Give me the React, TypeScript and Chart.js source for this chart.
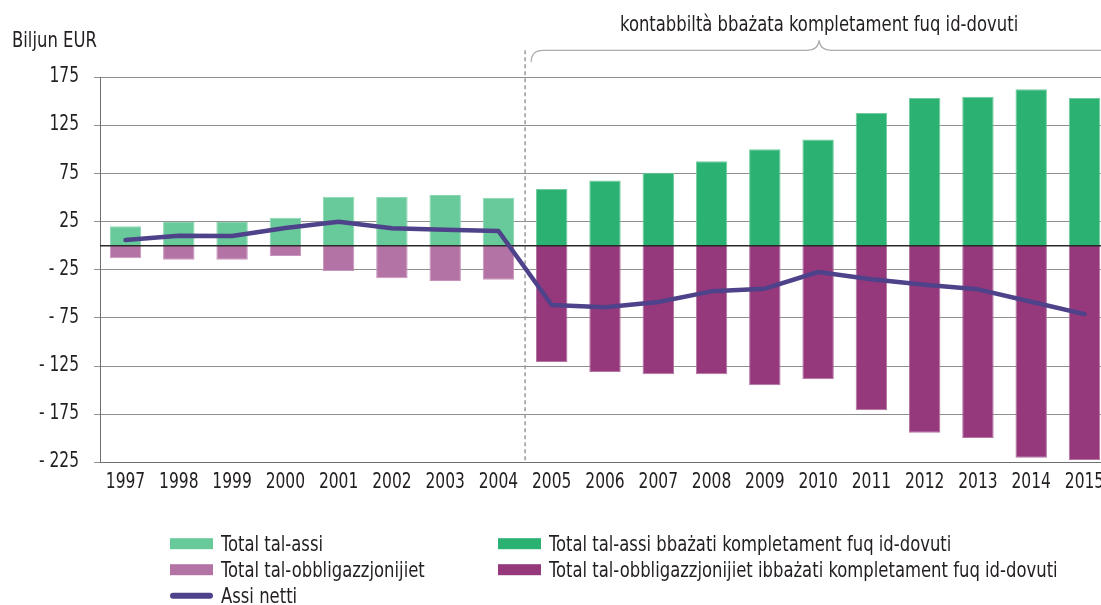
import React, { useEffect, useRef } from 'react';
import { Chart, registerables } from 'chart.js';

Chart.register(...registerables);

// ---------- DATA ----------
const years = [1997, 1998, 1999, 2000, 2001, 2002, 2003, 2004, 2005, 2006, 2007, 2008, 2009, 2010, 2011, 2012, 2013, 2014, 2015];
const yearLabels = ['1997', '1998', '1999', '2000', '2001', '2002', '2003', '2004', '2005', '2006', '2007', '2008', '2009', '2010', '2011', '2012', '2013', '2014', '2015'];

const earlyYears = [1997, 1998, 1999, 2000, 2001, 2002, 2003, 2004];
const earlyAssets = [20.2, 24.6, 24.6, 29.1, 50.9, 50.9, 52.7, 49.9];
const earlyLiabilities = [-13.1, -14.5, -14.5, -10.7, -26.3, -33.9, -36.7, -35.3];

const lateYears = [2005, 2006, 2007, 2008, 2009, 2010, 2011, 2012, 2013, 2014, 2015];
const lateAssets = [58.9, 67.9, 75.8, 87.7, 100.2, 110.5, 137.9, 153.5, 154.9, 162.5, 153.5];
const lateLiabilities = [-120.8, -131.2, -133.6, -133.6, -145.0, -138.8, -171.0, -194.3, -199.8, -220.2, -222.6];

const netAssets = [5.9, 10.4, 10.1, 18.4, 24.9, 18.1, 16.6, 15.3, -61.6, -64.0, -58.5, -47.4, -44.6, -27.3, -34.9, -40.5, -45.3, -58.2, -71.0];

const yTicks = [-225, -175, -125, -75, -25, 25, 75, 125, 175];

const seriesLabels = [
  'Total tal-assi',
  'Total tal-obbligazzjonijiet',
  'Total tal-assi bbażati kompletament fuq id-dovuti',
  'Total tal-obbligazzjonijiet ibbażati kompletament fuq id-dovuti',
  'Assi netti',
];
const axisTitle = 'Biljun EUR';
const bracketTitle = 'kontabbiltà bbażata kompletament fuq id-dovuti';

// ---------- STYLE ----------
const FONT = '"DejaVu Sans Condensed", "Liberation Sans Narrow", "DejaVu Sans", sans-serif';
const FONT_CSS = `21px ${FONT}`;
const TEXT_SCALE = 0.87;
const NUM_SCALE = 0.82;
const TEXT = '#231f20';
const C_LIGHT_GREEN = '#68c99a';
const C_LIGHT_PURPLE = '#b374a5';
const C_DARK_GREEN = '#2bb273';
const C_DARK_PURPLE = '#95387c';
const C_LINE = '#4e428a';

const toPoints = (xs: number[], ys: number[]) => xs.map((x, i) => ({ x, y: ys[i] }));
const fmtY = (v: number) => (v < 0 ? '- ' + Math.abs(v) : String(v));

function drawText(ctx: CanvasRenderingContext2D, text: string, x: number, y: number, align: CanvasTextAlign, sx: number) {
  ctx.save();
  ctx.translate(x, y);
  ctx.scale(sx, 1);
  ctx.font = FONT_CSS;
  ctx.fillStyle = TEXT;
  ctx.textAlign = align;
  ctx.textBaseline = 'alphabetic';
  ctx.fillText(text, 0, 0);
  ctx.restore();
}

const annotationPlugin = {
  id: 'annotations',
  beforeDatasetsDraw(chart: any) {
    const { ctx, chartArea, scales } = chart;
    const x = scales.x.getPixelForValue(2004.5);
    ctx.save();
    ctx.strokeStyle = '#9a9a9a';
    ctx.lineWidth = 1.5;
    ctx.setLineDash([4, 3]);
    ctx.beginPath();
    ctx.moveTo(x, chartArea.top - 27);
    ctx.lineTo(x, chartArea.bottom);
    ctx.stroke();
    ctx.restore();
  },
  beforeDatasetDraw(chart: any, args: any) {
    if (args.index !== 4) return;
    const { ctx, chartArea, scales } = chart;
    const y0 = scales.y.getPixelForValue(0);
    ctx.save();
    ctx.strokeStyle = '#2a2a2a';
    ctx.lineWidth = 1.3;
    ctx.beginPath();
    ctx.moveTo(chartArea.left, y0);
    ctx.lineTo(chartArea.right, y0);
    ctx.stroke();
    ctx.restore();
  },
  afterDraw(chart: any) {
    const { ctx, chartArea, scales } = chart;
    ctx.save();

    // tick labels (condensed)
    for (const t of scales.y.ticks) {
      const py = scales.y.getPixelForValue(t.value);
      drawText(ctx, fmtY(t.value), 79, py + 5, 'right', NUM_SCALE);
    }
    for (const t of scales.x.ticks) {
      const px = scales.x.getPixelForValue(t.value);
      const lbl = yearLabels[years.indexOf(t.value)] ?? '';
      drawText(ctx, lbl, px, chartArea.bottom + 26, 'center', NUM_SCALE);
    }

    // axis title
    drawText(ctx, axisTitle, 12, 47, 'left', TEXT_SCALE);

    // bracket
    const xSplit = scales.x.getPixelForValue(2004.5);
    const left = xSplit + 6;
    const right = scales.x.getPixelForValue(2015.5);
    const mid = (xSplit + right) / 2 + 1;
    const yb = chartArea.top - 27;
    ctx.strokeStyle = '#ababab';
    ctx.lineWidth = 1.2;
    ctx.beginPath();
    ctx.moveTo(left, yb + 12);
    ctx.quadraticCurveTo(left, yb, left + 12, yb);
    ctx.lineTo(mid - 12, yb);
    ctx.quadraticCurveTo(mid - 1, yb, mid, yb - 10);
    ctx.quadraticCurveTo(mid + 1, yb, mid + 12, yb);
    ctx.lineTo(right - 12, yb);
    ctx.quadraticCurveTo(right, yb, right, yb + 12);
    ctx.stroke();

    // bracket title
    drawText(ctx, bracketTitle, mid, 31, 'center', TEXT_SCALE);

    // legend
    const items = [
      { col: 170, row: 0, color: C_LIGHT_GREEN, label: seriesLabels[0], line: false },
      { col: 170, row: 1, color: C_LIGHT_PURPLE, label: seriesLabels[1], line: false },
      { col: 170, row: 2, color: C_LINE, label: seriesLabels[4], line: true },
      { col: 498, row: 0, color: C_DARK_GREEN, label: seriesLabels[2], line: false },
      { col: 498, row: 1, color: C_DARK_PURPLE, label: seriesLabels[3], line: false },
    ];
    for (const it of items) {
      const cy = 543.7 + it.row * 26;
      if (it.line) {
        ctx.strokeStyle = it.color;
        ctx.lineWidth = 6;
        ctx.lineCap = 'round';
        ctx.beginPath();
        ctx.moveTo(it.col + 3, cy);
        ctx.lineTo(it.col + 40, cy);
        ctx.stroke();
      } else {
        ctx.fillStyle = it.color;
        ctx.fillRect(it.col, cy - 5.5, 43, 11);
      }
      drawText(ctx, it.label, it.col + 51, cy + 7, 'left', TEXT_SCALE);
    }
    ctx.restore();
  },
};

export default function App() {
  const ref = useRef<HTMLCanvasElement>(null);

  useEffect(() => {
    if (!ref.current) return;
    const barCommon = {
      type: 'bar' as const,
      grouped: false,
      categoryPercentage: 1,
      barPercentage: 0.59,
      order: 1,
    };
    const chart = new Chart(ref.current, {
      type: 'bar',
      data: {
        datasets: [
          { ...barCommon, label: seriesLabels[0], data: toPoints(earlyYears, earlyAssets), backgroundColor: C_LIGHT_GREEN, borderColor: '#8ad6b1', borderWidth: 1 },
          { ...barCommon, label: seriesLabels[1], data: toPoints(earlyYears, earlyLiabilities), backgroundColor: C_LIGHT_PURPLE, borderColor: '#c894bc', borderWidth: 1 },
          { ...barCommon, label: seriesLabels[2], data: toPoints(lateYears, lateAssets), backgroundColor: C_DARK_GREEN, borderColor: '#72cc9e', borderWidth: 1 },
          { ...barCommon, label: seriesLabels[3], data: toPoints(lateYears, lateLiabilities), backgroundColor: C_DARK_PURPLE, borderColor: '#b274a2', borderWidth: 1 },
          {
            type: 'line',
            label: seriesLabels[4],
            data: toPoints(years, netAssets),
            borderColor: C_LINE,
            backgroundColor: C_LINE,
            borderWidth: 4.5,
            pointRadius: 0,
            tension: 0,
            borderCapStyle: 'round',
            borderJoinStyle: 'round',
            order: 0,
          } as any,
        ],
      },
      options: {
        responsive: false,
        animation: false,
        devicePixelRatio: 1,
        layout: { padding: { top: 77.3, right: 0, left: 0, bottom: 0 } },
        plugins: { legend: { display: false }, tooltip: { enabled: false }, title: { display: false } },
        scales: {
          x: {
            type: 'linear',
            offset: false,
            min: 1996.521,
            max: 2015.31,
            afterBuildTicks: (s: any) => { s.ticks = years.map((v) => ({ value: v })); },
            afterFit: (s: any) => { s.height = 605 - 462.3; },
            ticks: { display: false, autoSkip: false, maxRotation: 0 },
            grid: { display: false, drawTicks: false, offset: false },
            border: { display: true, color: '#6f6f6f', width: 1 },
          },
          y: {
            min: -225,
            max: 175,
            afterBuildTicks: (s: any) => { s.ticks = yTicks.map((v) => ({ value: v })); },
            afterFit: (s: any) => { s.width = 100; },
            ticks: { display: false },
            grid: { color: '#8f8f8f', lineWidth: 1, tickLength: 6, drawTicks: true },
            border: { display: true, color: '#6f6f6f', width: 1 },
          },
        },
      },
      plugins: [annotationPlugin],
    } as any);
    return () => chart.destroy();
  }, []);

  return (
    <div style={{ position: 'fixed', left: 0, top: 0, width: 1101, height: 605, overflow: 'hidden', background: '#fff' }}>
      <canvas ref={ref} width={1101} height={605} style={{ display: 'block' }} />
    </div>
  );
}
